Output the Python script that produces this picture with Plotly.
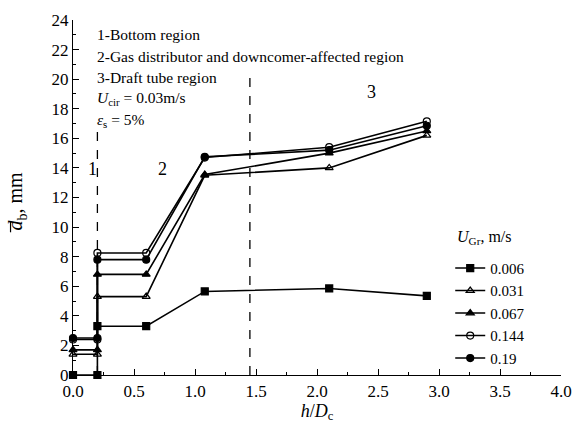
import plotly.graph_objects as go

# h/Dc positions (step at region boundary 0.2)
x_pos = [0.0, 0.2, 0.2, 0.6, 1.08, 2.1, 2.9]

series_names = ["0.006", "0.031", "0.067", "0.144", "0.19"]
y_0006 = [0.0, 0.0, 3.3, 3.3, 5.65, 5.85, 5.35]
y_0031 = [1.4, 1.4, 5.3, 5.3, 13.5, 14.0, 16.2]
y_0067 = [1.7, 1.7, 6.8, 6.8, 13.55, 15.0, 16.5]
y_0144 = [2.4, 2.4, 8.25, 8.25, 14.7, 15.4, 17.15]
y_019 = [2.5, 2.5, 7.8, 7.8, 14.75, 15.2, 16.85]
series_values = [y_0006, y_0031, y_0067, y_0144, y_019]
symbols = ["square", "triangle-up-open", "triangle-up", "circle-open", "circle"]

# region boundaries
boundary_x = [0.2, 1.45]
boundary_top = [16.6, 20.1]

region_labels = ["1", "2", "3"]
region_x = [0.16, 0.73, 2.45]
region_y = [13.9, 13.9, 19.1]

notes = [
    "1-Bottom region",
    "2-Gas distributor and downcomer-affected region",
    "3-Draft tube region",
    "<i>U</i><sub>cir</sub> = 0.03m/s",
    "<i>ε</i><sub>s</sub> = 5%",
]
note_y = [23.0, 21.55, 20.1, 18.7, 17.2]

FONT = "Liberation Serif"

fig = go.Figure()

for bx, bt in zip(boundary_x, boundary_top):
    fig.add_trace(go.Scatter(x=[bx, bx], y=[0, bt], mode="lines",
                             line=dict(color="black", width=1.3, dash="dash"),
                             showlegend=False, hoverinfo="skip"))

for name, ys, sym in zip(series_names, series_values, symbols):
    fig.add_trace(go.Scatter(
        x=x_pos, y=ys, name=name, mode="lines+markers",
        line=dict(color="black", width=1.6),
        marker=dict(symbol=sym, size=7, color="black",
                    line=dict(color="black", width=1.2)),
        cliponaxis=False,
    ))

for t, xx, yy in zip(region_labels, region_x, region_y):
    fig.add_annotation(x=xx, y=yy, text=t, showarrow=False,
                       font=dict(family=FONT, size=18, color="black"))

for t, yy in zip(notes, note_y):
    fig.add_annotation(x=0.18, y=yy, xref="x", yref="y", text=t, showarrow=False,
                       xanchor="left", font=dict(family=FONT, size=15.5, color="black"))

# y-axis title (rotated) with overbar on d
fig.add_annotation(x=-0.116, y=0.49, xref="paper", yref="paper",
                   text="<i>d</i><sub>b</sub>, mm", textangle=-90, showarrow=False,
                   xanchor="center", yanchor="middle",
                   font=dict(family=FONT, size=20, color="black"))
fig.add_shape(type="line", xref="paper", yref="paper",
              x0=-0.128, x1=-0.128, y0=0.402, y1=0.432,
              line=dict(color="black", width=1.2))

# legend title
fig.add_annotation(x=0.782, y=0.386, xref="paper", yref="paper",
                   text="<i>U</i><sub>Gr</sub>, m/s", showarrow=False,
                   xanchor="left", yanchor="middle",
                   font=dict(family=FONT, size=16, color="black"))

fig.update_layout(
    width=584, height=428,
    margin=dict(l=73, r=23, t=20, b=53),
    paper_bgcolor="white", plot_bgcolor="white",
    font=dict(family=FONT, size=16, color="black"),
    legend=dict(x=0.773, y=0.347, xanchor="left", yanchor="top",
                font=dict(family=FONT, size=15), bgcolor="rgba(0,0,0,0)",
                tracegroupgap=0),
    xaxis=dict(range=[0, 4], showline=True, linecolor="black", linewidth=1.3,
               showgrid=False, zeroline=False, ticks="inside", ticklen=6,
               tickcolor="black", dtick=0.5, tick0=0, tickformat=".1f",
               minor=dict(ticks="inside", ticklen=3, dtick=0.25, tickcolor="black"),
               title=dict(text="<i>h</i>/<i>D</i><sub>c</sub>", standoff=2,
                          font=dict(family=FONT, size=18)),
               tickfont=dict(family=FONT, size=17)),
    yaxis=dict(range=[0, 24], showline=True, linecolor="black", linewidth=1.3,
               showgrid=False, zeroline=False, ticks="inside", ticklen=6,
               tickcolor="black", dtick=2, tick0=0,
               minor=dict(ticks="inside", ticklen=3, dtick=1, tickcolor="black"),
               tickfont=dict(family=FONT, size=17)),
)

fig.write_html("out.html")
